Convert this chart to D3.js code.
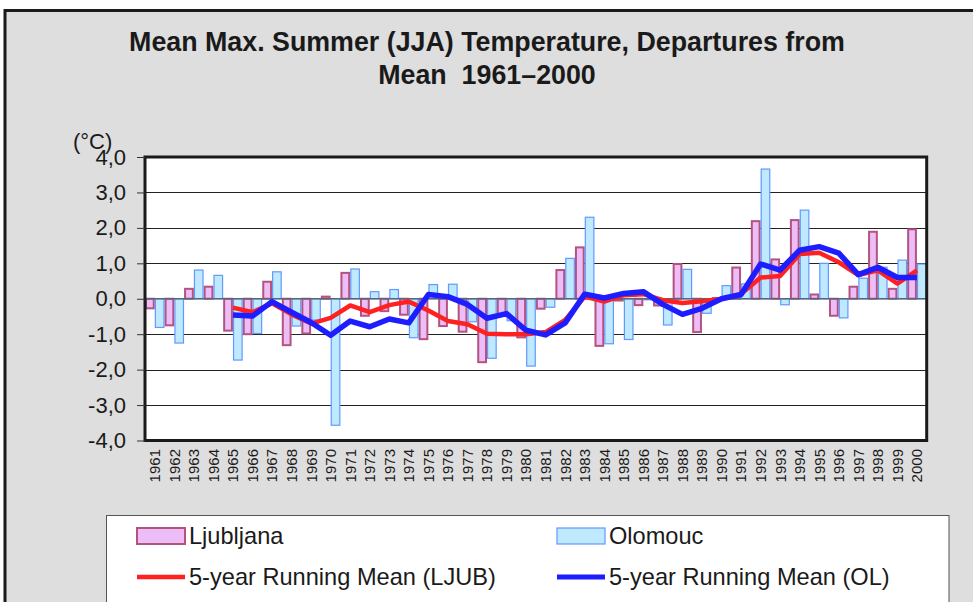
<!DOCTYPE html>
<html><head><meta charset="utf-8">
<script src="https://cdn.jsdelivr.net/npm/d3@7"></script>
<style>
body{margin:0;background:#fff}
svg{display:block}
text{font-family:"Liberation Sans",Arial,sans-serif;fill:#1a1a1a;white-space:pre}
</style>
</head><body>
<svg id="c" width="973" height="602"></svg>
<script>
const years = ["1961","1962","1963","1964","1965","1966","1967","1968","1969","1970",
  "1971","1972","1973","1974","1975","1976","1977","1978","1979","1980",
  "1981","1982","1983","1984","1985","1986","1987","1988","1989","1990",
  "1991","1992","1993","1994","1995","1996","1997","1998","1999","2000"];
const ljubljana = [-0.27,-0.75,0.28,0.34,-0.90,-1.00,0.48,-1.31,-0.98,0.06,
  0.73,-0.48,-0.35,-0.45,-1.14,-0.77,-0.93,-1.79,-0.45,-1.09,
  -0.28,0.81,1.45,-1.33,-0.05,-0.18,-0.19,0.98,-0.94,0.02,
  0.88,2.19,1.11,2.22,0.12,-0.48,0.34,1.89,0.28,1.96];
const olomouc = [-0.81,-1.25,0.81,0.66,-1.73,-0.98,0.76,-0.77,-0.60,-3.57,
  0.84,0.20,0.26,-1.10,0.40,0.41,-0.65,-1.68,-0.62,-1.90,
  -0.24,1.14,2.30,-1.27,-1.15,-0.03,-0.74,0.83,-0.41,0.37,
  0.42,3.66,-0.17,2.50,1.00,-0.54,0.58,0.89,1.09,0.98];
const rmLjub = [null,null,null,null,-0.25,-0.38,-0.13,-0.44,-0.70,-0.54,
  -0.19,-0.38,-0.18,-0.08,-0.33,-0.63,-0.72,-0.99,-1.00,-1.00,
  -0.94,-0.60,0.06,-0.08,0.10,0.13,-0.04,-0.12,-0.07,-0.01,
  0.13,0.60,0.64,1.26,1.30,1.03,0.67,0.80,0.43,0.80];
const rmOl = [null,null,null,null,-0.46,-0.49,-0.08,-0.38,-0.67,-1.03,
  -0.63,-0.79,-0.57,-0.68,0.12,0.06,-0.16,-0.55,-0.42,-0.89,
  -1.02,-0.68,0.13,0.02,0.15,0.20,-0.16,-0.44,-0.27,0.00,
  0.12,0.98,0.81,1.37,1.47,1.29,0.68,0.89,0.60,0.60];
const yTicks = [-4,-3,-2,-1,0,1,2,3,4];
const titleLines = ["Mean Max. Summer (JJA) Temperature, Departures from", "Mean  1961\u20132000"];
const seriesNames = ["Ljubljana","Olomouc","5-year Running Mean (LJUB)","5-year Running Mean (OL)"];

const C = {lFill:"#ecbdf6", lStroke:"#b4537f", oFill:"#bee9ff", oStroke:"#6398ff", red:"#ff2121", blue:"#1d1dff"};
const svg = d3.select("#c");
const L = 145, R = 926.7, T = 157, B = 440.5;

// panel
svg.append("rect").attr("x",5).attr("y",10.5).attr("width",1100).attr("height",1100)
  .attr("fill","#dedede").attr("stroke","#1a1a1a").attr("stroke-width",3);

// title
svg.selectAll("text.title").data(titleLines).join("text").attr("class","title")
  .attr("x",487).attr("y",(d,i)=>51+i*33).attr("text-anchor","middle")
  .attr("font-size",26.8).attr("font-weight","bold").text(d=>d);

const x = d3.scaleBand().domain(years).range([L,R]).padding(0);
const xs = d3.scaleBand().domain(["L","O"]).range([0,x.bandwidth()]).padding(0);
const y = d3.scaleLinear().domain([-4,4]).range([B,T]);

// plot bg
svg.append("rect").attr("x",L).attr("y",T).attr("width",R-L).attr("height",B-T).attr("fill","#fff");

// gridlines
svg.append("g").selectAll("line").data(yTicks.filter(t=>t!==0 && Math.abs(t)!==4)).join("line")
  .attr("x1",L).attr("x2",R).attr("y1",d=>Math.round(y(d))+0.5).attr("y2",d=>Math.round(y(d))+0.5)
  .attr("stroke","#222").attr("stroke-width",1);

// bars
const barG = svg.append("g");
const drawBars = (vals,key,fill,stroke,sw)=>{
  barG.append("g").selectAll("rect").data(vals).join("rect")
    .attr("x",(d,i)=>x(years[i])+xs(key)+sw/2)
    .attr("width",xs.bandwidth()-sw)
    .attr("y",d=>y(Math.max(0,d)))
    .attr("height",d=>Math.abs(y(d)-y(0)))
    .attr("fill",fill).attr("stroke",stroke).attr("stroke-width",sw);
};
drawBars(ljubljana,"L",C.lFill,C.lStroke,2);
drawBars(olomouc,"O",C.oFill,C.oStroke,1.2);

// zero line
svg.append("line").attr("x1",L).attr("x2",R).attr("y1",y(0)).attr("y2",y(0))
  .attr("stroke","#56677a").attr("stroke-width",1.6);

// running means
const cx = i => x(years[i]) + x.bandwidth()/2;
const line = d3.line().defined(d=>d!==null).x((d,i)=>cx(i)).y(d=>y(d));
svg.append("path").datum(rmLjub).attr("d",line).attr("fill","none")
  .attr("stroke",C.red).attr("stroke-width",4.5).attr("stroke-linejoin","round");
svg.append("path").datum(rmOl).attr("d",line).attr("fill","none")
  .attr("stroke",C.blue).attr("stroke-width",5.5).attr("stroke-linejoin","round");

// plot border
svg.append("rect").attr("x",L).attr("y",T).attr("width",R-L).attr("height",B-T)
  .attr("fill","none").attr("stroke","#1a1a1a").attr("stroke-width",3);

// y axis
const loc = d3.formatLocale({decimal:",",thousands:".",grouping:[3],currency:["",""],minus:"-"});
const fmt = loc.format(".1f");
const ya = svg.append("g").attr("transform",`translate(${L},0)`)
  .call(d3.axisLeft(y).tickValues(yTicks).tickSize(8).tickPadding(11).tickFormat(fmt));
ya.select(".domain").remove();
ya.selectAll(".tick line").attr("stroke","#333");
ya.selectAll(".tick text").attr("font-size",22).attr("font-family","Liberation Sans, Arial, sans-serif").attr("fill","#1a1a1a");
svg.append("text").attr("x",73).attr("y",149).attr("font-size",22).text("(\u00b0C)");

// x labels
svg.append("g").selectAll("text").data(years).join("text")
  .attr("transform",d=>`translate(${x(d)+x.bandwidth()/2},449) rotate(-90)`)
  .attr("text-anchor","end").attr("dy","0.36em").attr("font-size",15).text(d=>d);

// legend
svg.append("rect").attr("x",106.5).attr("y",515.5).attr("width",842.5).attr("height",120)
  .attr("fill","#fff").attr("stroke","#555").attr("stroke-width",1);
const lg = [
  {x:137,y:536,type:"bar",fill:C.lFill,stroke:C.lStroke,sw:2,name:seriesNames[0]},
  {x:557,y:536,type:"bar",fill:C.oFill,stroke:C.oStroke,sw:1.2,name:seriesNames[1]},
  {x:137,y:577,type:"line",stroke:C.red,sw:4.5,name:seriesNames[2]},
  {x:557,y:577,type:"line",stroke:C.blue,sw:5,name:seriesNames[3]}
];
lg.forEach(d=>{
  if(d.type==="bar"){
    svg.append("rect").attr("x",d.x).attr("y",d.y-8).attr("width",48).attr("height",16)
      .attr("fill",d.fill).attr("stroke",d.stroke).attr("stroke-width",d.sw);
  } else {
    svg.append("line").attr("x1",d.x).attr("x2",d.x+48).attr("y1",d.y).attr("y2",d.y)
      .attr("stroke",d.stroke).attr("stroke-width",d.sw);
  }
  svg.append("text").attr("x",d.x+52).attr("y",d.y+8).attr("font-size",23.6).text(d.name);
});
</script>
</body></html>
